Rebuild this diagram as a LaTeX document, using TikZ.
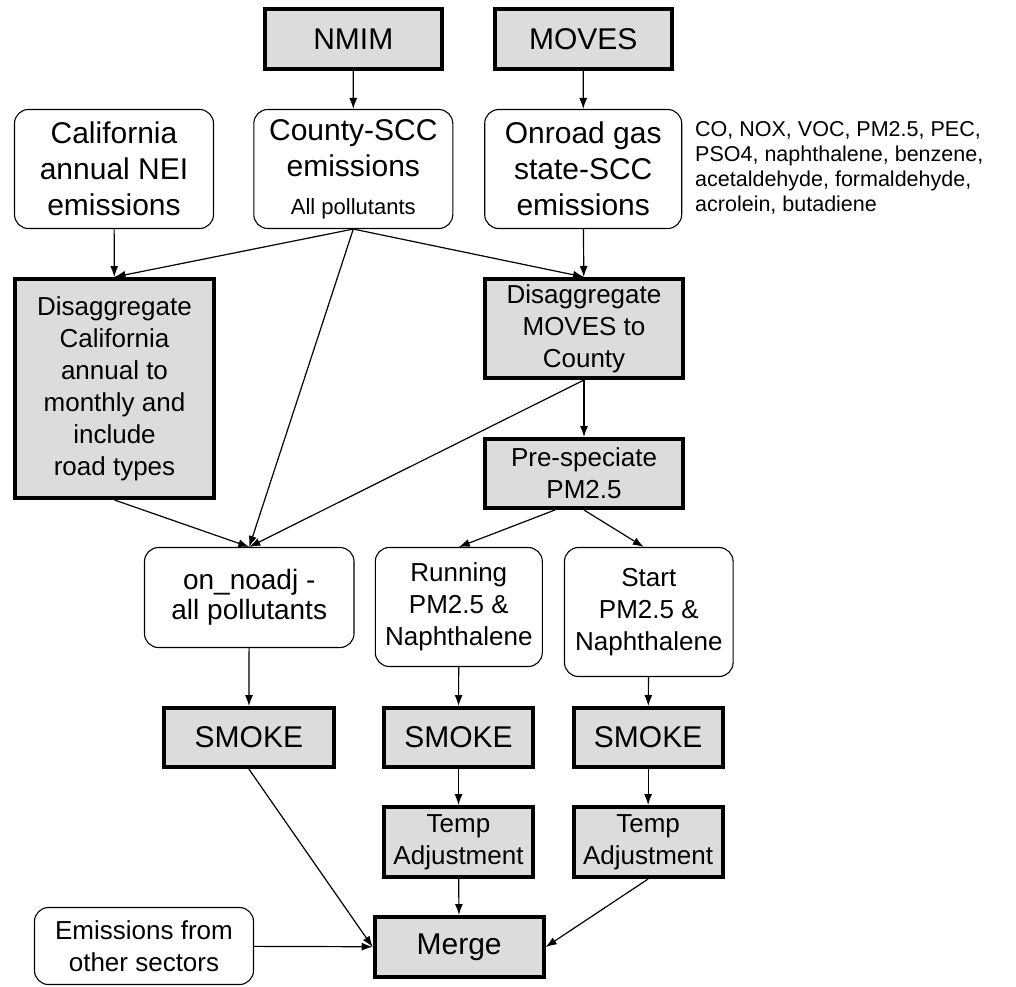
\documentclass[tikz,border=0pt]{standalone}
\usepackage{fontspec}
\setmainfont{Liberation Sans}
\usetikzlibrary{arrows.meta,calc}
\definecolor{boxgray}{RGB}{220,220,220}
\tikzset{
  tb/.style={draw, line width=4pt, fill=boxgray, inner sep=0pt, align=center},
  rb/.style={draw, line width=1.1pt, rounded corners=14pt, fill=white, inner sep=0pt, align=center},
  fbig/.style={font=\fontsize{30}{36}\selectfont},
  fmid/.style={font=\fontsize{26}{32}\selectfont},
  conn/.style={line width=1.2pt, -{Latex[length=11pt,width=8pt]}},
}
\begin{document}
\begin{tikzpicture}[x=1pt,y=-1pt]
\useasboundingbox (0,0) rectangle (1016,986);
% top row
\node[tb,fbig,minimum width=177.5pt,minimum height=60pt] (nmim) at (353.25,39) {NMIM};
\node[tb,fbig,minimum width=177.5pt,minimum height=60pt] (moves) at (583.25,39) {MOVES};
\node[rb,fbig,minimum width=199pt,minimum height=119pt] (cal) at (114,169) {California\\annual NEI\\emissions};
\node[rb,fbig,minimum width=199pt,minimum height=119pt] (cty) at (353.3,169) {County-SCC\\emissions\\[2pt]{\fontsize{22}{26}\selectfont All pollutants}};
\node[rb,fbig,minimum width=197pt,minimum height=119pt] (onr) at (583.2,169) {Onroad gas\\state-SCC\\emissions};
\node[anchor=west,align=left,inner sep=0pt,font=\fontsize{21.5}{25}\selectfont] (poll) at (695,168) {CO, NOX, VOC, PM2.5, PEC,\\PSO4, naphthalene, benzene,\\acetaldehyde, formaldehyde,\\acrolein, butadiene};
% disaggregation
\node[tb,fmid,minimum width=199pt,minimum height=219pt] (dcal) at (114.5,388.5) {Disaggregate\\California\\annual to\\monthly and\\include\\road types};
\node[tb,fmid,minimum width=198pt,minimum height=99pt] (dmov) at (584,328.5) {Disaggregate\\MOVES to\\County};
\node[tb,fmid,minimum width=198pt,minimum height=69pt] (pre) at (584,473.5) {Pre-speciate\\PM2.5};
% middle row
\node[rb,font=\fontsize{28}{30}\selectfont,minimum width=209.5pt,minimum height=100pt] (onad) at (249.25,597.5) {on\_noadj -\\all pollutants};
\node[rb,fmid,minimum width=167pt,minimum height=119pt] (run) at (458.8,607) {Running\\PM2.5 \&\\Naphthalene};
\node[rb,fmid,minimum width=168.6pt,minimum height=129pt] (start) at (648.8,612) {Start\\PM2.5 \&\\Naphthalene};
% smoke
\node[tb,fbig,minimum width=169.7pt,minimum height=59pt] (sm1) at (248.85,737.5) {SMOKE};
\node[tb,fbig,minimum width=149pt,minimum height=59pt] (sm2) at (458.5,737.5) {SMOKE};
\node[tb,fbig,minimum width=149pt,minimum height=59pt] (sm3) at (648.1,737.5) {SMOKE};
% temp
\node[tb,fmid,minimum width=149pt,minimum height=70pt] (tmp1) at (458.5,842) {Temp\\Adjustment};
\node[tb,fmid,minimum width=149pt,minimum height=70pt] (tmp2) at (648.1,842) {Temp\\Adjustment};
% merge
\node[tb,fbig,minimum width=169pt,minimum height=60pt] (merge) at (459.15,947) {Merge};
\node[rb,fmid,minimum width=219pt,minimum height=77pt] (other) at (144,946) {Emissions from\\other sectors};
% connectors
\draw[conn] (nmim) -- (cty);
\draw[conn] (moves) -- (onr);
\draw[conn] (cal) -- (dcal);
\draw[conn] (cty.south) -- (dcal.north);
\draw[conn] (cty.south) -- (dmov.north);
\draw[conn] (cty.south) -- (onad.north);
\draw[conn] (onr) -- (dmov);
\draw[conn] (dcal.south) -- (onad.north);
\draw[conn] (dmov.south) -- (onad.north);
\draw[conn] (dmov) -- (pre);
\draw[conn] ($(pre.south west)!0.356!(pre.south east)$) -- (run.north);
\draw[conn] (pre.south) -- ($(start.north west)!0.47!(start.north east)$);
\draw[conn] (onad) -- (sm1);
\draw[conn] (run) -- (sm2);
\draw[conn] (start) -- (sm3);
\draw[conn] (sm2) -- (tmp1);
\draw[conn] (sm3) -- (tmp2);
\draw[conn] (tmp1) -- (merge);
\draw[conn] (sm1.south) -- (merge.west);
\draw[conn] (tmp2.south) -- (merge.east);
\draw[conn] (other) -- (merge);
\end{tikzpicture}
\end{document}
